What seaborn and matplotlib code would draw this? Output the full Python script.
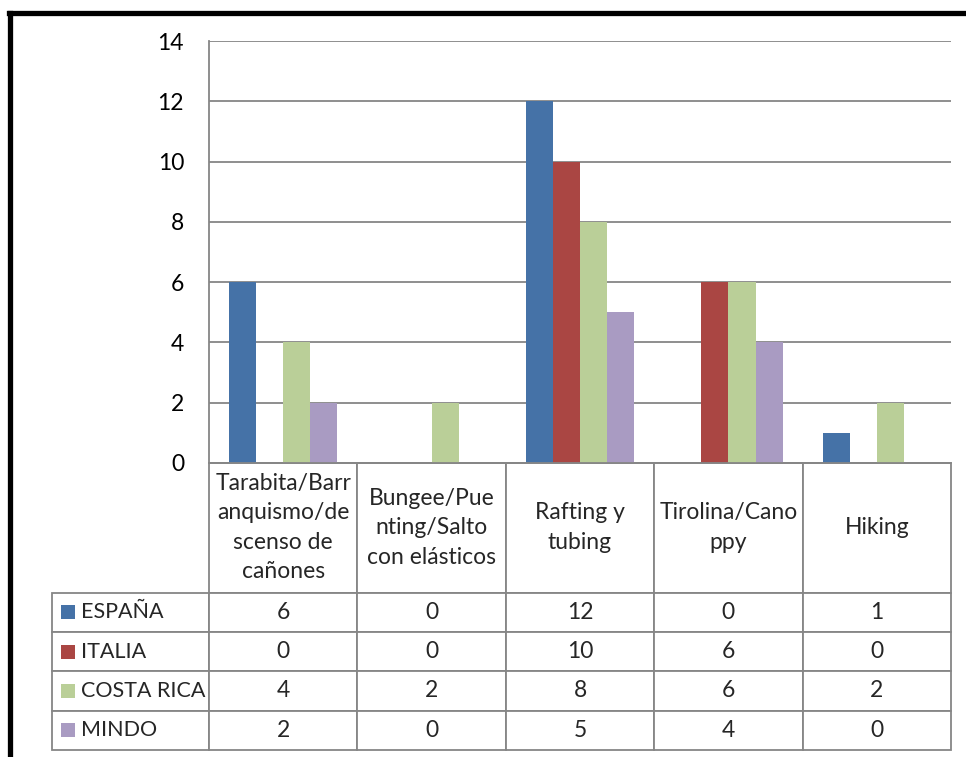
import pandas as pd
import seaborn as sns
import matplotlib.pyplot as plt
from matplotlib.lines import Line2D
from matplotlib.patches import Rectangle

# data
actividades = ["Tarabita/Barr\nanquismo/de\nscenso de\ncañones",
               "Bungee/Pue\nnting/Salto\ncon elásticos",
               "Rafting y\ntubing",
               "Tirolina/Cano\nppy",
               "Hiking"]
paises = ["ESPAÑA", "ITALIA", "COSTA RICA", "MINDO"]
espana = [6, 0, 12, 0, 1]
italia = [0, 0, 10, 6, 0]
costa_rica = [4, 2, 8, 6, 2]
mindo = [2, 0, 5, 4, 0]
colores = ["#4572A7", "#AA4643", "#BACF98", "#A99BC2"]

series = [espana, italia, costa_rica, mindo]
rows = []
for pais, vals in zip(paises, series):
    for act, v in zip(actividades, vals):
        rows.append({"actividad": act, "pais": pais, "valor": v})
df = pd.DataFrame(rows)

sns.set_theme(style="white")
plt.rcParams["font.family"] = ["Lato", "DejaVu Sans"]
FS = 16.5

fig = plt.figure(figsize=(9.66, 7.57), dpi=100)
ax = fig.add_axes([0.2164, 0.3884, 0.7681, 0.5574])

sns.barplot(data=df, x="actividad", y="valor", hue="pais", order=actividades,
            hue_order=paises, palette=colores, width=0.73, gap=0,
            saturation=1, edgecolor="none", linewidth=0, legend=False, ax=ax)

grid_col = "#868686"
ax.set_ylim(0, 14)
ax.set_yticks(range(0, 15, 2))
ax.yaxis.grid(True, color=grid_col, lw=1.3)
ax.set_axisbelow(True)
ax.tick_params(axis="y", length=0, pad=18, labelsize=FS, labelcolor="black")
ax.set_xticks([])
ax.set_xlabel("")
ax.set_ylabel("")
for side in ["top", "right"]:
    ax.spines[side].set_visible(False)
for side in ["left", "bottom"]:
    ax.spines[side].set_color(grid_col)
    ax.spines[side].set_linewidth(1.3)

# data table under the chart, sizes given in axes units
n_col, n_row = len(actividades), len(paises)
tab_h = 0.6801
ux = 1.0 / (148 * n_col)
uy = tab_h / (130 + 39.5 * n_row)
col_w, lab_w = 148 * ux, 157 * ux
head_h, row_h = 130 * uy, 39.5 * uy

cell_text = [[str(v) for v in vals] for vals in series]
tbl = ax.table(cellText=cell_text, rowLabels=paises, colLabels=actividades,
               colWidths=[col_w] * n_col,
               cellLoc="center", rowLoc="left",
               bbox=[0.0, -tab_h, 1.0, tab_h])
# fixed width for the row-label column instead of auto width
if -1 in tbl._autoColumns:
    tbl._autoColumns.remove(-1)
tbl.auto_set_font_size(False)
tbl.set_fontsize(FS)
for (r, c), cell in tbl.get_celld().items():
    cell.set_edgecolor(grid_col)
    cell.set_linewidth(1.3)
    if c == -1:
        cell.set_width(lab_w)
        cell.PAD = 0.185
        cell.get_text().set_fontsize(FS - 1)
    else:
        cell.get_text().set_fontsize(FS)
    cell.set_height(head_h if r == 0 else row_h)
    if r == 0:
        cell.get_text().set_linespacing(1.5)

# legend keys inside the row-label cells
for i, col in enumerate(colores):
    yc = -tab_h + (n_row - i - 0.5) * row_h
    fig.add_artist(Rectangle((-lab_w + 9 * ux, yc - 7 * uy), 14 * ux, 14 * uy,
                             facecolor=col, edgecolor="none", zorder=20,
                             transform=ax.transAxes))

# thick frame around the chart (top and left visible)
fig.add_artist(Line2D([9 / 966, 1.0], [1 - 13 / 757, 1 - 13 / 757],
                      color="black", lw=3.8, transform=fig.transFigure,
                      solid_capstyle="projecting"))
fig.add_artist(Line2D([10 / 966, 10 / 966], [0, 1 - 13 / 757],
                      color="black", lw=3.8, transform=fig.transFigure,
                      solid_capstyle="projecting"))

fig.savefig("out.png", dpi=100)
